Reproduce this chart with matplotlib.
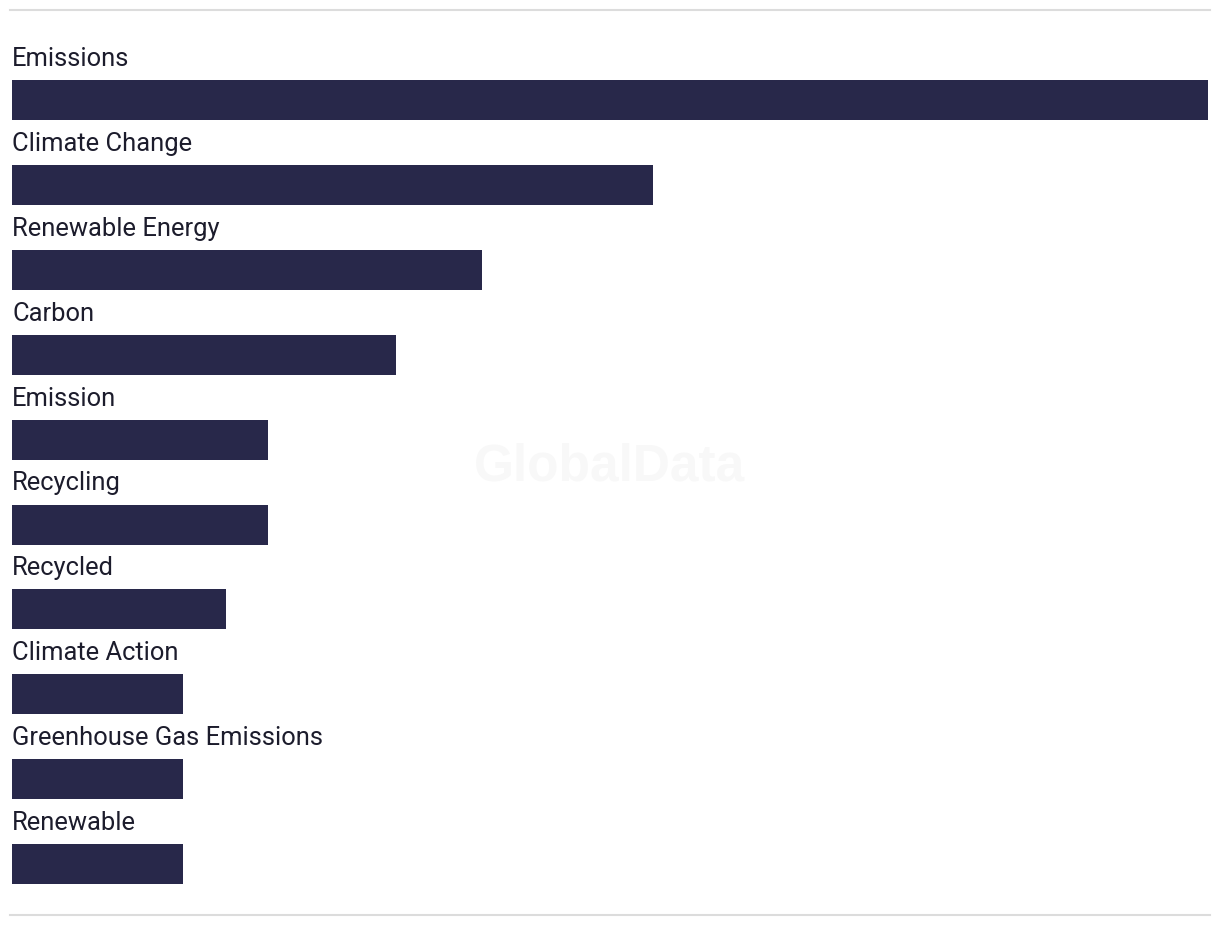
import matplotlib
matplotlib.use('Agg')
import matplotlib.pyplot as plt
from matplotlib.lines import Line2D

topics = ['Emissions', 'Climate Change', 'Renewable Energy', 'Carbon', 'Emission',
          'Recycling', 'Recycled', 'Climate Action', 'Greenhouse Gas Emissions', 'Renewable']
mentions = [28, 15, 11, 9, 6, 6, 5, 4, 4, 4]

W, H = 1220, 928
fig = plt.figure(figsize=(W/100, H/100), dpi=100)
ax = fig.add_axes([12/W, 0, (1208-12)/W, 1])

step = 84.9
first = 101
pos = list(range(len(topics)))
ax.barh(pos, mentions, height=40/step, color='#28284a', left=0)
for i, t in enumerate(topics):
    ax.text(0, i - 42/step, t, va='center', ha='left', fontsize=18.4,
            family=['Roboto', 'DejaVu Sans'], color='#1c1c2c')

ax.set_xlim(0, 28)
ax.set_ylim((H-first)/step, -first/step)
ax.axis('off')

# faint watermark
fig.text(610/W, 1-467/H, 'GlobalData', ha='center', va='center', fontsize=37,
         fontweight='bold', family='Liberation Sans', color='#f8f8f8', zorder=0)

for yy in (11, 916):
    fig.add_artist(Line2D([10/W, 1210/W], [1-yy/H, 1-yy/H], color='#dcdcdc', lw=1.5))

fig.savefig('out.png', dpi=100)
